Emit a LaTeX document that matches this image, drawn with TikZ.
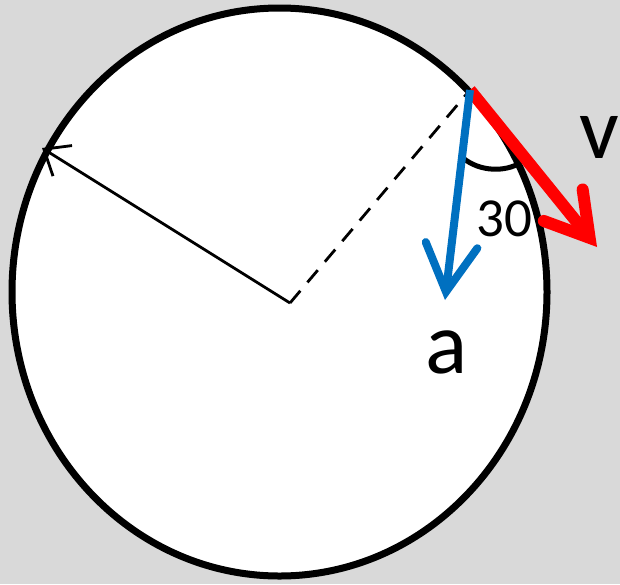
\documentclass[tikz,border=0pt]{standalone}
\usepackage{fontspec}
\setmainfont{Carlito}
\usetikzlibrary{arrows.meta}
\definecolor{bggray}{HTML}{D9D9D9}
\definecolor{accblue}{HTML}{0070C0}
\definecolor{velred}{HTML}{FF0000}

\begin{document}
\begin{tikzpicture}[x=1pt, y=-1pt, line width=2.8pt,
    biglbl/.style={inner sep=0pt, font=\fontsize{88}{88}\selectfont},
    anglbl/.style={inner sep=0pt, font=\fontsize{55}{55}\selectfont}]
    \fill[bggray] (0,0) rectangle (620,584);
    \useasboundingbox (0,0) rectangle (620,584);
    \filldraw[draw=black, fill=white, line width=7pt] (279.5,292) ellipse [x radius=267.5pt, y radius=284pt];
    \coordinate (O) at (290,303);
    \coordinate (P) at (470,90);
    \coordinate (L) at (42,148);
    \coordinate (atip) at (445,300);
    \coordinate (vtip) at (597,247);
    \draw[dash pattern=on 16pt off 11pt] (O) -- (P);
    \draw[-{Straight Barb[length=22pt, width=36pt]}] (O) -- (L);
    \draw[line width=5pt] (463,158) .. controls (480,172) and (505,172) .. (520,163);
    \draw[velred, line width=12pt, -{Straight Barb[length=42pt, width=50pt, line cap=round]}] (P) -- (vtip);
    \draw[accblue, line width=8pt, -{Straight Barb[length=47pt, width=52pt, line cap=round]}] (P) -- (atip);
    \node[biglbl] (lblv) at (599,137) {v};
    \node[biglbl] (lbla) at (447,352) {a};
    \node[anglbl] (lblang) at (504,219) {30};
  \end{tikzpicture}
\end{document}
